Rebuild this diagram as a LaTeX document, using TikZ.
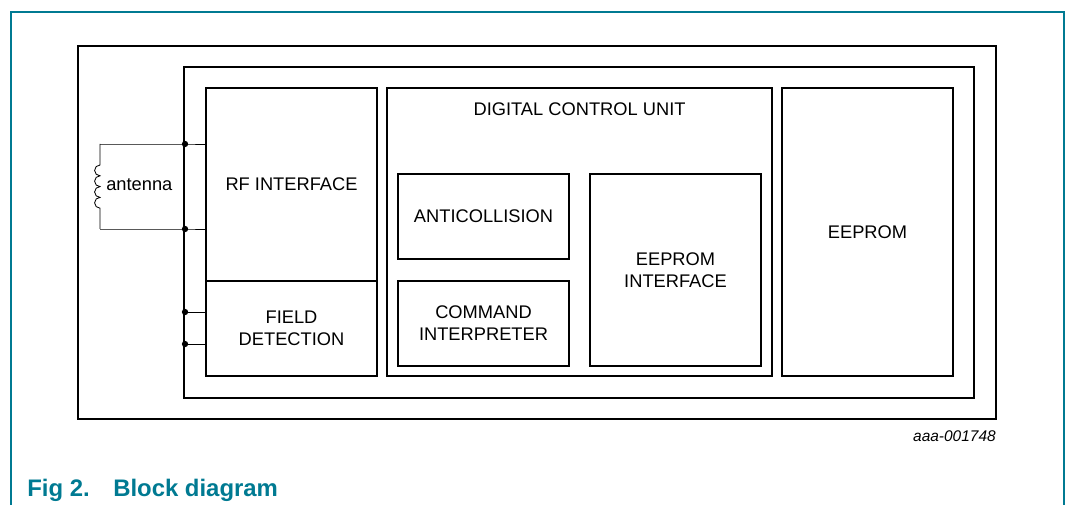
\documentclass[tikz,border=0pt]{standalone}
\usepackage{fontspec}
\setmainfont{Liberation Sans}
\usetikzlibrary{positioning}
\definecolor{nxpteal}{RGB}{0,122,146}
\tikzset{>=latex}

\begin{document}
\begin{tikzpicture}[x=0.025cm, y=-0.025cm,
    every node/.style={font=\fontsize{13}{15.5}\selectfont},
    blk/.style={draw, line width=1.5pt, rectangle, inner sep=0pt, outer sep=0pt, align=center, anchor=north west},
    wire/.style={draw, line width=0.6pt},
    jdot/.style={circle, fill, inner sep=0pt, minimum size=4.5pt}]
    \useasboundingbox (0,0) rectangle (1066,505);

    % Frame
    \draw[nxpteal, line width=1pt] (11,505) -- (11,12) -- (1064,12) -- (1064,505);

    % Boxes
    \node (board) [blk, minimum width=22.95cm, minimum height=9.325cm] at (78,46) {};
    \node (chip) [blk, minimum width=19.75cm, minimum height=8.275cm] at (184,67) {};
    \node (rf) [blk, minimum width=4.275cm, minimum height=4.825cm] at (206,88) {RF INTERFACE};
    \node (field) [blk, minimum width=4.275cm, minimum height=2.375cm] at (206,281) {FIELD\\DETECTION};
    \node (dcu) [blk, minimum width=9.625cm, minimum height=7.2cm] at (387,88) {};
    \node (dculabel) [below=0.35cm of dcu.north, inner sep=0pt] {DIGITAL CONTROL UNIT};
    \node (anti) [blk, minimum width=4.275cm, minimum height=2.125cm] at (398,174) {ANTICOLLISION};
    \node (cmd) [blk, minimum width=4.275cm, minimum height=2.125cm] at (398,281) {COMMAND\\INTERPRETER};
    \node (eif) [blk, minimum width=4.275cm, minimum height=4.8cm] at (590,174) {EEPROM\\INTERFACE};
    \node (eeprom) [blk, minimum width=4.275cm, minimum height=7.2cm] at (782,88) {EEPROM};

    % Antenna and bus
    \coordinate (a1) at (100,144);
    \coordinate (a2) at (100,229);
    \node (j1) [jdot] at (185,144) {};
    \node (j2) [jdot] at (185,229) {};
    \node (j3) [jdot] at (185,312) {};
    \node (j4) [jdot] at (185,344) {};
    \draw[wire] (a1) -- (j1.center) -- (rf.west |- j1);
    \draw[wire] (a2) -- (j2.center) -- (rf.west |- j2);
    \draw[wire] (j3.center) -- (field.west |- j3);
    \draw[wire] (j4.center) -- (field.west |- j4);
    \draw[wire] (a1) -- (100,165)
        arc[start angle=-90, end angle=-270, radius=5.4]
        arc[start angle=-90, end angle=-270, radius=5.4]
        arc[start angle=-90, end angle=-270, radius=5.4]
        arc[start angle=-90, end angle=-270, radius=5.4]
        -- (a2);
    \node (ant) [anchor=west, inner sep=0pt] at (106,185) {antenna};

    % Labels
    \node (code) [anchor=east, inner sep=0pt, font=\fontsize{11}{13}\selectfont\itshape] at (996,436) {aaa-001748};
    \node (fig) [anchor=west, inner sep=0pt, text=nxpteal, font=\fontsize{17}{20}\selectfont\bfseries] at (27,490) {Fig 2.};
    \node (title) [anchor=west, inner sep=0pt, text=nxpteal, font=\fontsize{17}{20}\selectfont\bfseries] at (113,490) {Block diagram};
\end{tikzpicture}
\end{document}
